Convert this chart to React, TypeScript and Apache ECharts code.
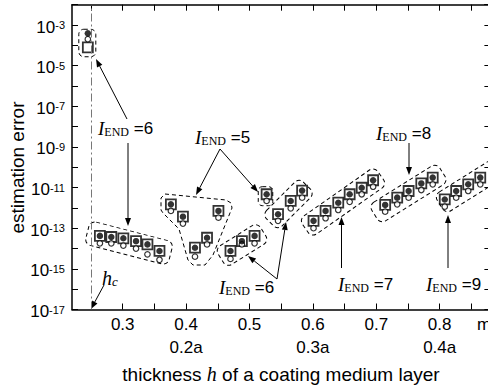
import React, { useEffect, useRef } from 'react';
import * as echarts from 'echarts';

// ---------- data ----------
const thickness = [
  0.245,
  0.264, 0.282, 0.301, 0.321, 0.339, 0.358,
  0.376, 0.395, 0.414, 0.433, 0.451,
  0.47, 0.488, 0.508,
  0.527,
  0.545, 0.565, 0.583,
  0.601, 0.62, 0.64, 0.658, 0.677, 0.695,
  0.714, 0.733, 0.751, 0.771, 0.789,
  0.808, 0.826, 0.845, 0.864,
];
const filledErr = [
  3.9e-4,
  4.2e-14, 3.7e-14, 3.2e-14, 2.3e-14, 1.6e-14, 7.6e-15,
  1.5e-12, 3.7e-13, 1.1e-14, 3.4e-14, 7.1e-13,
  7.6e-15, 2.3e-14, 4.2e-14,
  4.7e-12,
  4.9e-13, 2.2e-12, 7.1e-12,
  2.3e-13, 7.1e-13, 1.8e-12, 4.7e-12, 9.8e-12, 2.3e-11,
  1.4e-12, 3.2e-12, 6.8e-12, 1.6e-11, 3.1e-11,
  2.6e-12, 6.8e-12, 1.45e-11, 3.1e-11,
];
const openErr = [
  2.0e-4,
  1.8e-14, 1.8e-14, 1.4e-14, 1.0e-14, 5.2e-15, 2.8e-15,
  7.1e-13, 1.7e-13, 4.0e-15, 1.6e-14, 3.3e-13,
  3.1e-15, 1.6e-14, 1.8e-14,
  2.2e-12,
  2.3e-13, 9.5e-13, 3.2e-12,
  1.0e-13, 3.1e-13, 7.9e-13, 2.0e-12, 4.7e-12, 1.1e-11,
  6.5e-13, 1.5e-12, 3.2e-12, 7.6e-12, 1.45e-11,
  1.15e-12, 3.2e-12, 6.8e-12, 1.45e-11,
];
const boxErr = [
  7.9e-5,
  4.2e-14, 3.7e-14, 3.2e-14, 2.3e-14, 1.6e-14, 7.6e-15,
  1.5e-12, 3.7e-13, 1.1e-14, 3.4e-14, 7.1e-13,
  7.6e-15, 2.3e-14, 4.2e-14,
  4.7e-12,
  4.9e-13, 2.2e-12, 7.1e-12,
  2.3e-13, 7.1e-13, 1.8e-12, 4.7e-12, 9.8e-12, 2.3e-11,
  1.4e-12, 3.2e-12, 6.8e-12, 1.6e-11, 3.1e-11,
  2.6e-12, 6.8e-12, 1.45e-11, 3.1e-11,
];
const hc = 0.25;
const xMin = 0.22;
const xMax = 0.88;
const yMin = 1e-17;
const yMax = 1e-2;
const xTickValues = [0.25, 0.3, 0.35, 0.4, 0.45, 0.5, 0.55, 0.6, 0.65, 0.7, 0.75, 0.8, 0.85];
const xLabelValues = [0.3, 0.4, 0.5, 0.6, 0.7, 0.8];
const aLabelValues = [0.4, 0.6, 0.8];
const aLabelTexts = ['0.2a', '0.3a', '0.4a'];
const unitText = 'mm';
const iEndValues = [6, 5, 8, 6, 7, 9];
const xTitleParts = ['thickness ', 'h', ' of a coating medium layer'];
const yTitle = 'estimation error';

// ---------- layout of annotations (pixels) ----------
const iEndPos: [number, number][] = [
  [98, 128],
  [195, 137],
  [376, 133],
  [219, 287],
  [338, 284],
  [426, 284],
];
const arrows: [number, number, number, number][] = [
  [127, 119, 96, 59],
  [128, 143, 128, 226],
  [220, 149, 196, 195],
  [220, 149, 258, 192],
  [277, 279, 248, 256],
  [277, 279, 286, 222],
  [341.5, 268, 341.5, 217],
  [409, 143, 409, 175],
  [448, 268, 448, 215],
  [104, 285, 91, 309],
];
// cx, cy, w, h, angle (deg, ccw), r
const boxes: [number, number, number, number, number, number][] = [
  [87.3, 43, 17, 27.5, 0, 5],
  [129, 243, 86, 24, -14.5, 6],
  [242, 245, 50, 22, 32, 6],
  [265.5, 196.2, 14.5, 19, 0, 4],
  [288.5, 204, 52, 22, 45, 6],
  [343, 202, 92, 22, 35, 6],
  [408.5, 193.5, 80, 22, 32, 6],
  [484, 177, 104, 22, 32, 6],
];
const polyC: [number, number][] = [
  [165, 194], [226, 200], [231, 203], [232, 208], [213, 255], [205, 265],
  [193, 265], [188, 260], [179, 229], [163, 213], [161, 210], [161, 198],
];

const SANS = "'Liberation Sans', Arial, sans-serif";
const SERIF = "'Liberation Serif', 'Times New Roman', serif";

function arrow(x1: number, y1: number, x2: number, y2: number) {
  const dx = x2 - x1;
  const dy = y2 - y1;
  const L = Math.hypot(dx, dy);
  const ux = dx / L;
  const uy = dy / L;
  const hl = 8;
  const hw = 3;
  const bx = x2 - ux * hl;
  const by = y2 - uy * hl;
  return [
    { type: 'line', silent: true, shape: { x1, y1, x2: bx, y2: by }, style: { stroke: '#000', lineWidth: 1 } },
    {
      type: 'polygon',
      silent: true,
      shape: { points: [[x2, y2], [bx - uy * hw, by + ux * hw], [bx + uy * hw, by - ux * hw]] },
      style: { fill: '#000' },
    },
  ];
}

function dashedBox(cx: number, cy: number, w: number, h: number, deg: number, r: number) {
  return {
    type: 'rect',
    silent: true,
    x: cx,
    y: cy,
    rotation: (deg * Math.PI) / 180,
    shape: { x: -w / 2, y: -h / 2, width: w, height: h, r },
    style: { fill: 'none', stroke: '#000', lineWidth: 1, lineDash: [4, 3] },
  };
}

const iEndRich = {
  i: { fontFamily: SERIF, fontStyle: 'italic', fontSize: 19, lineHeight: 20, fill: '#000' },
  s: { fontFamily: SERIF, fontSize: 12, lineHeight: 12, verticalAlign: 'bottom', fill: '#000' },
  t: { fontFamily: SANS, fontSize: 17, lineHeight: 20, fill: '#000' },
};

function iEndText(x: number, y: number, n: number) {
  return {
    type: 'text',
    silent: true,
    x,
    y,
    style: {
      text: `{i|I}{s|END}{t| =${n}}`,
      rich: iEndRich,
      align: 'left',
      verticalAlign: 'middle',
      fill: '#000',
    },
  };
}

export default function App() {
  const ref = useRef<HTMLDivElement>(null);

  useEffect(() => {
    if (!ref.current) return;
    const chart = echarts.init(ref.current, null, { renderer: 'svg' });

    const graphics: any[] = [];
    boxes.forEach((b) => graphics.push(dashedBox(...b)));
    graphics.push({
      type: 'polygon',
      silent: true,
      shape: { points: polyC },
      style: { fill: 'none', stroke: '#000', lineWidth: 1, lineDash: [4, 3] },
    });
    arrows.forEach((a) => graphics.push(...arrow(...a)));
    iEndValues.forEach((n, i) => graphics.push(iEndText(iEndPos[i][0], iEndPos[i][1], n)));
    graphics.push({
      type: 'text',
      silent: true,
      x: 102,
      y: 278,
      style: {
        text: '{h|h}{c|c}',
        rich: {
          h: { fontFamily: SERIF, fontStyle: 'italic', fontSize: 20, lineHeight: 20, fill: '#000' },
          c: { fontFamily: SERIF, fontStyle: 'italic', fontSize: 13, lineHeight: 13, verticalAlign: 'bottom', fill: '#000' },
        },
        align: 'left',
        verticalAlign: 'middle',
      },
    });
    graphics.push({
      type: 'text',
      silent: true,
      x: 477,
      y: 324,
      style: { text: unitText, font: `17px ${SANS}`, fill: '#000', align: 'left', verticalAlign: 'middle' },
    });
    graphics.push({
      type: 'text',
      silent: true,
      x: 281,
      y: 374,
      style: {
        text: `{a|${xTitleParts[0]}}{h|${xTitleParts[1]}}{a|${xTitleParts[2]}}`,
        rich: {
          a: { fontFamily: SANS, fontSize: 19, fill: '#000' },
          h: { fontFamily: SERIF, fontStyle: 'italic', fontSize: 20, fill: '#000' },
        },
        align: 'center',
        verticalAlign: 'middle',
      },
    });
    graphics.push({
      type: 'text',
      silent: true,
      x: 17,
      y: 167.5,
      rotation: Math.PI / 2,
      style: { text: yTitle, font: `19px ${SANS}`, fill: '#000', align: 'center', verticalAlign: 'middle' },
    });

    const axisLine = { show: true, onZero: false, lineStyle: { color: '#000', width: 1.5 } };
    const tick = { show: true, inside: true, length: 6, lineStyle: { color: '#000', width: 1 } };

    chart.setOption({
      animation: false,
      backgroundColor: '#fff',
      grid: { left: 72, top: 4.7, right: 29.6, bottom: 79.5, containLabel: false, outerBoundsMode: 'none' },
      xAxis: [
        {
          type: 'value',
          position: 'bottom',
          min: xMin,
          max: xMax,
          axisLine,
          axisTick: { ...tick, customValues: xTickValues },
          axisLabel: {
            customValues: xLabelValues,
            formatter: (v: number) => v.toFixed(1),
            fontFamily: SANS,
            fontSize: 17,
            color: '#000',
            margin: 6,
          },
          splitLine: { show: false },
        },
        {
          type: 'value',
          position: 'top',
          min: xMin,
          max: xMax,
          axisLine,
          axisTick: { ...tick, customValues: xTickValues },
          axisLabel: { show: false },
          splitLine: { show: false },
        },
        {
          type: 'value',
          position: 'bottom',
          offset: 23,
          min: xMin,
          max: xMax,
          axisLine: { show: false },
          axisTick: { show: false },
          axisLabel: {
            customValues: aLabelValues,
            formatter: (v: number) => {
              const i = aLabelValues.findIndex((a) => Math.abs(a - v) < 1e-6);
              return i >= 0 ? aLabelTexts[i] : '';
            },
            fontFamily: SANS,
            fontSize: 17,
            color: '#000',
            margin: 6,
          },
          splitLine: { show: false },
        },
      ],
      yAxis: [
        {
          type: 'log',
          logBase: 10,
          position: 'left',
          min: yMin,
          max: yMax,
          interval: 1,
          axisLine,
          axisTick: tick,
          axisLabel: {
            margin: 7,
            padding: [5, 0, 0, 0],
            formatter: (v: number) => {
              const e = Math.round(Math.log10(v));
              return e % 2 !== 0 ? `{b|10}{s|${e}}` : '';
            },
            rich: {
              b: { fontFamily: SANS, fontSize: 17, lineHeight: 16, verticalAlign: 'bottom', color: '#000' },
              s: { fontFamily: SANS, fontSize: 11, lineHeight: 11, verticalAlign: 'top', color: '#000' },
            },
          },
          splitLine: { show: false },
        },
        {
          type: 'log',
          logBase: 10,
          position: 'right',
          min: yMin,
          max: yMax,
          interval: 1,
          axisLine,
          axisTick: tick,
          axisLabel: { show: false },
          splitLine: { show: false },
        },
      ],
      series: [
        {
          type: 'scatter',
          name: 'box',
          xAxisIndex: 0,
          yAxisIndex: 0,
          symbol: 'rect',
          symbolSize: 10,
          itemStyle: { color: '#fff', borderColor: '#000', borderWidth: 1.8 },
          data: thickness.map((h, i) => [h, boxErr[i]]),
          z: 2,
        },
        {
          type: 'scatter',
          name: 'open',
          xAxisIndex: 0,
          yAxisIndex: 0,
          symbol: 'circle',
          symbolSize: 5.5,
          itemStyle: { color: '#fff', borderColor: '#000', borderWidth: 1.2 },
          data: thickness.map((h, i) => [h, openErr[i]]),
          z: 3,
        },
        {
          type: 'scatter',
          name: 'filled',
          xAxisIndex: 0,
          yAxisIndex: 0,
          symbol: 'circle',
          symbolSize: 6.5,
          itemStyle: { color: '#000' },
          data: thickness.map((h, i) => [h, filledErr[i]]),
          z: 4,
          markLine: {
            silent: true,
            symbol: ['none', 'none'],
            label: { show: false },
            lineStyle: { color: '#777', type: [8, 3, 2, 3], width: 1 },
            data: [{ xAxis: hc }],
          },
        },
      ],
      graphic: { elements: graphics },
    });

    return () => chart.dispose();
  }, []);

  return (
    <div
      style={{
        position: 'fixed',
        left: 0,
        top: 0,
        width: 488,
        height: 389,
        overflow: 'hidden',
        background: '#fff',
      }}
    >
      <div ref={ref} style={{ width: 520, height: 389 }} />
    </div>
  );
}
